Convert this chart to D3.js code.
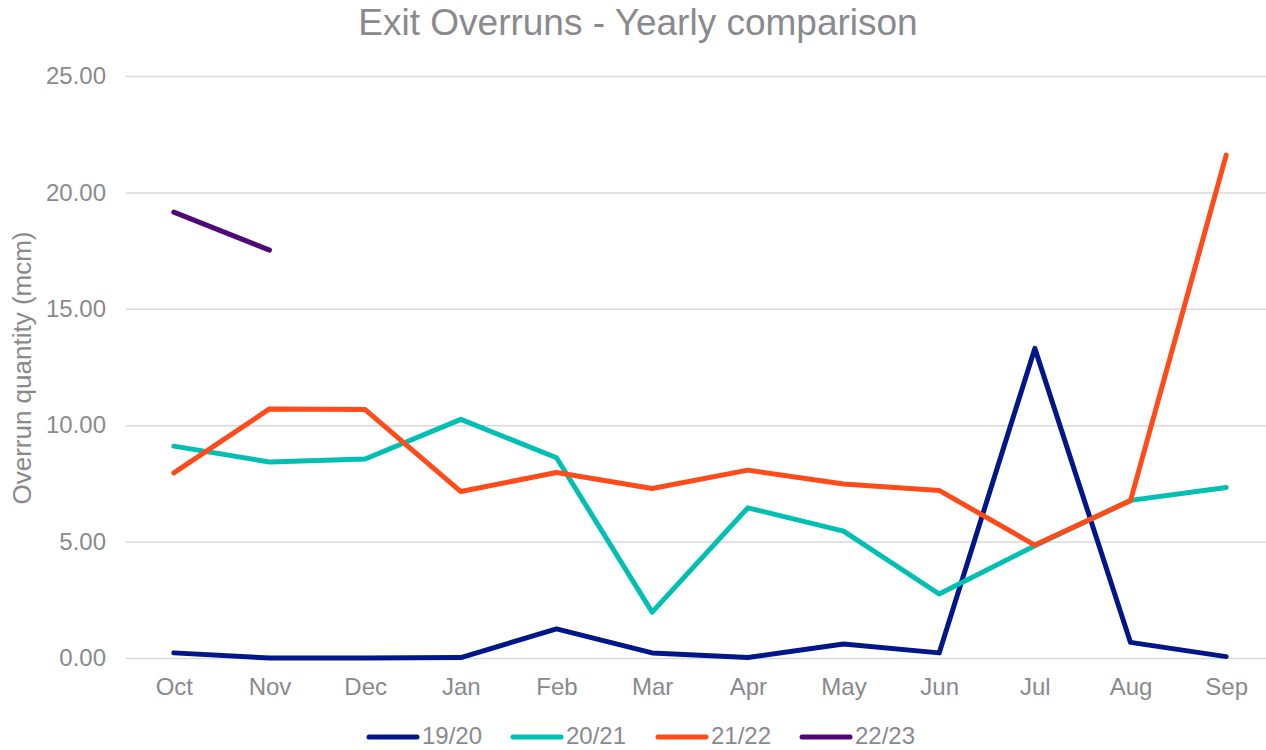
<!DOCTYPE html>
<html><head><meta charset="utf-8">
<script src="https://cdn.jsdelivr.net/npm/d3@7"></script>
<style>body{margin:0;background:#fff;}svg{display:block;font-family:"Liberation Sans",Arial,sans-serif;}</style>
</head><body>
<svg id="c" width="1266" height="750"></svg>
<script>
const months = ["Oct","Nov","Dec","Jan","Feb","Mar","Apr","May","Jun","Jul","Aug","Sep"];
const s1920 = [0.22,0.0,0.0,0.02,1.25,0.22,0.02,0.6,0.22,13.3,0.67,0.06];
const s2021 = [9.1,8.42,8.55,10.25,8.6,1.97,6.45,5.45,2.75,4.82,6.77,7.32];
const s2122 = [7.95,10.7,10.67,7.15,7.97,7.28,8.07,7.47,7.2,4.85,6.76,21.6];
const s2223 = [19.15,17.52];
const seriesNames = ["19/20","20/21","21/22","22/23"];
const seriesColors = ["#001689","#00BFB3","#FF4A1A","#500778"];
const yTicks = [0,5,10,15,20,25];
const title = "Exit Overruns - Yearly comparison";
const yLabel = "Overrun quantity (mcm)";

const svg = d3.select("#c");
const m = {l:126, r:1274, t:76, b:658};
const x = d3.scalePoint().domain(months).range([m.l, m.r]).padding(0.5);
const y = d3.scaleLinear().domain([0,25]).range([m.b, m.t]);
const grey = "#8a8a8e";

svg.append("text").attr("x",638).attr("y",35).attr("text-anchor","middle")
  .attr("font-size",37).attr("fill",grey).text(title);

// grid
const yAxis = d3.axisLeft(y).tickValues(yTicks).tickFormat(d3.format(".2f")).tickSize(-(m.r-m.l)).tickPadding(20);
const ga = svg.append("g").attr("transform",`translate(${m.l},0)`).call(yAxis);
ga.select(".domain").remove();
ga.selectAll(".tick line").attr("stroke","#d9d9d9").attr("stroke-width",1.5);
ga.selectAll(".tick text").attr("fill",grey).attr("font-size",24);

const xAxis = d3.axisBottom(x).tickSize(0).tickPadding(20);
const gx = svg.append("g").attr("transform",`translate(0,${m.b})`).call(xAxis);
gx.select(".domain").remove();
gx.selectAll(".tick text").attr("fill",grey).attr("font-size",24);

svg.append("text").attr("transform",`translate(31,${(m.t+m.b)/2+1}) rotate(-90)`)
  .attr("text-anchor","middle").attr("font-size",26).attr("fill",grey).text(yLabel);

const all = [s1920,s2021,s2122,s2223];
const line = d3.line().x((d,i)=>x(months[i])).y(d=>y(d));
all.forEach((s,k)=>{
  svg.append("path").datum(s).attr("d",line).attr("fill","none")
    .attr("stroke",seriesColors[k]).attr("stroke-width",5)
    .attr("stroke-linejoin","round").attr("stroke-linecap","round");
});

// legend
const legX = [369,513,658,802];
const lg = svg.append("g");
seriesNames.forEach((n,k)=>{
  lg.append("line").attr("x1",legX[k]).attr("x2",legX[k]+48).attr("y1",737).attr("y2",737)
    .attr("stroke",seriesColors[k]).attr("stroke-width",5).attr("stroke-linecap","round");
  lg.append("text").attr("x",legX[k]+53).attr("y",744).attr("font-size",24).attr("fill",grey).text(n);
});
</script>
</body></html>
